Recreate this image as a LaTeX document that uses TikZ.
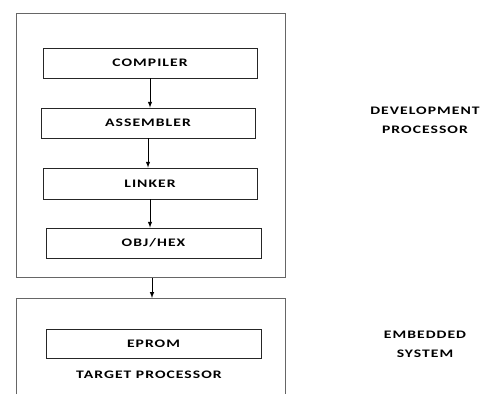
\documentclass[tikz,border=0pt]{standalone}
\usepackage{fontspec}
\setmainfont{Carlito}[LetterSpace=9,FakeStretch=1.36]
\usetikzlibrary{arrows,positioning,calc}

\tikzset{
  stepbox/.style={draw=black!85,line width=0.8pt,rectangle,minimum height=30pt,inner sep=0pt,font=\bfseries\fontsize{11.5}{13}\selectfont},
  outerbox/.style={draw=black!60,line width=1pt,rectangle,inner sep=0pt},
  sidelabel/.style={align=center,font=\bfseries\fontsize{11.5}{19}\selectfont},
  flow/.style={->,>=latex,line width=1pt}
}

\begin{document}
\begin{tikzpicture}[x=1pt,y=-1pt]
\useasboundingbox (0,0) rectangle (486,394);
% development side
\node[outerbox,minimum width=269pt,minimum height=264pt] (dev) at (150.5,145) {};
\node[stepbox,minimum width=214pt] (comp) at (150,63) {COMPILER};
\node[stepbox,minimum width=214pt] (asm) at (148,123) {ASSEMBLER};
\node[stepbox,minimum width=214pt,minimum height=31pt] (link) at (150,183.5) {LINKER};
\node[stepbox,minimum width=215pt] (obj) at (153.5,243) {OBJ/HEX};
\draw[flow] (comp.south) -- (comp.south |- asm.north);
\draw[flow] (asm.south) -- (asm.south |- link.north);
\draw[flow] (link.south) -- (link.south |- obj.north);
% target side, box runs off the bottom
\draw[draw=black!60,line width=1pt] (16,394) -- (16,298) -- (285,298) -- (285,394);
\coordinate (embtop) at (152,298);
\node[stepbox,minimum width=215pt,minimum height=29pt] (eprom) at (153.5,343.5) {EPROM};
\node[font=\bfseries\fontsize{11.5}{13}\selectfont] (target) at (149,375) {TARGET PROCESSOR};
\draw[flow] (embtop |- dev.south) -- (embtop);
% labels on the right
\node[sidelabel] (devlabel) at (425,120.5) {DEVELOPMENT\\PROCESSOR};
\node[sidelabel] (emblabel) at (425,344) {EMBEDDED\\SYSTEM};
\end{tikzpicture}
\end{document}
